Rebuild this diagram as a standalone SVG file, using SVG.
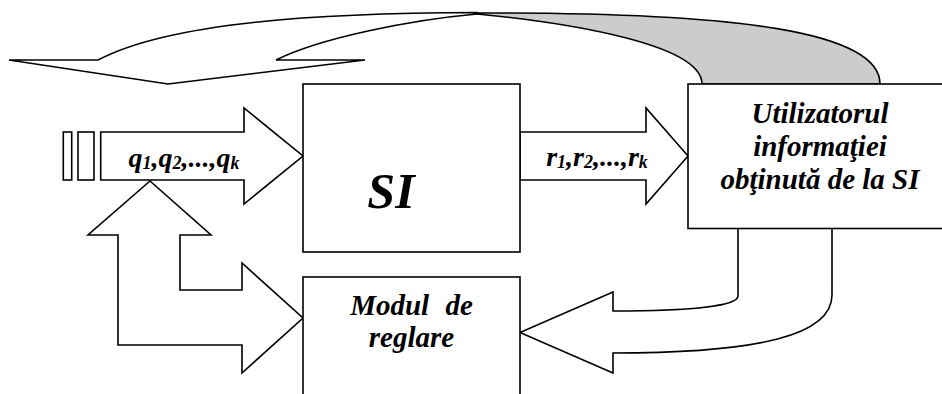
<svg xmlns="http://www.w3.org/2000/svg" width="942" height="394" viewBox="0 0 942 394">
<style>
.s{fill:#fff;stroke:#000;stroke-width:1.6;stroke-linejoin:miter}
.g{fill:#cccccc;stroke:#000;stroke-width:1.6}
.t{font-family:"Liberation Serif","Times New Roman",serif;font-weight:bold;font-style:italic;fill:#000}
.lbl{font-size:28px}
.sub{font-size:18px}
.box{font-size:29px;text-anchor:middle}
</style>
<rect width="942" height="394" fill="#fff"/>
<g id="connectors">
  <path class="g" d="M477,13 C740,12 880,32 880,84 L702,84 C702,40 540,20 477,14 Z"/>
  <path class="s" d="M98,60 C170,22 320,13 477,12.5 L477,14 C410,20 320,38 276,60 L365,60 L168,84 L9,60 Z"/>
  <path class="s" d="M100.7,132 L244,132 L244,108 L303,156 L244,204 L244,180 L100.7,180 Z"/>
  <path class="s" d="M520,132 L646,132 L646,108 L688,156 L646,204 L646,180 L520,180 Z"/>
  <path class="s" d="M118,235 L88,235 L150,181 L211,235 L180,235 L180,290 L242,290 L242,263 L303,318 L242,373 L242,345 L118,345 Z"/>
  <path class="s" d="M738,229 L738,296 C738,306 690,311 613,311 L613,292 L520,332.5 L613,373 L613,353 C760,353 832,335 832,295 L832,229"/>
  <text class="t lbl" x="184" y="167" text-anchor="middle">q<tspan class="sub" dy="2">1</tspan><tspan dy="-2">,q</tspan><tspan class="sub" dy="2">2</tspan><tspan dy="-2">,...,q</tspan><tspan class="sub" dy="2">k</tspan></text>
  <text class="t lbl" x="597" y="166" text-anchor="middle">r<tspan class="sub" dy="2">1</tspan><tspan dy="-2">,r</tspan><tspan class="sub" dy="2">2</tspan><tspan dy="-2">,...,r</tspan><tspan class="sub" dy="2">k</tspan></text>
</g>
<g id="node-buffer">
  <rect class="s" x="63.3" y="132" width="8.4" height="48"/>
  <rect class="s" x="78" y="132" width="16" height="48"/>
</g>
<g id="node-si">
  <rect class="s" x="303" y="84" width="217" height="168"/>
  <text class="t" x="391" y="208" font-size="50" text-anchor="middle">SI</text>
</g>
<g id="node-util">
  <rect class="s" x="688" y="84" width="264" height="144.5"/>
  <text class="t box" x="820" y="122.5">Utilizatorul</text>
  <text class="t box" x="820" y="155.5">informaţiei</text>
  <text class="t box" x="820" y="188.5">obţinută de la SI</text>
</g>
<g id="node-modul">
  <rect class="s" x="303" y="277" width="217" height="130"/>
  <text class="t box" x="411.5" y="315" word-spacing="9">Modul de</text>
  <text class="t box" x="411.5" y="347">reglare</text>
</g>
</svg>
